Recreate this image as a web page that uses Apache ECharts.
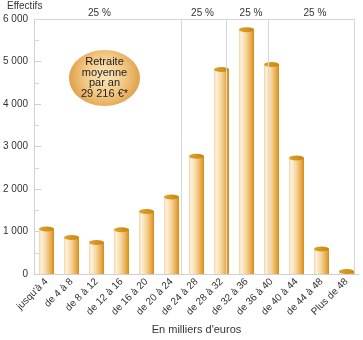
<!DOCTYPE html>
<html>
<head>
<meta charset="utf-8">
<script src="https://cdn.jsdelivr.net/npm/echarts@6/dist/echarts.min.js"></script>
<style>
  html, body { margin: 0; padding: 0; background: #fff; }
  #chart { width: 363px; height: 340px; }
</style>
</head>
<body>
<div id="chart"></div>
<script>
// Tranches de revenus (en milliers d'euros)
const categories = ["jusqu'à 4", 'de 4 à 8', 'de 8 à 12', 'de 12 à 16', 'de 16 à 20', 'de 20 à 24',
  'de 24 à 28', 'de 28 à 32', 'de 32 à 36', 'de 36 à 40', 'de 40 à 44', 'de 44 à 48', 'Plus de 48'];
// Effectifs par tranche
const effectifs = [1060, 860, 740, 1040, 1470, 1810, 2770, 4810, 5750, 4930, 2730, 590, 60];
// Graduations de l'axe des effectifs
const yTicks = [0, 1000, 2000, 3000, 4000, 5000, 6000];
// Quartiles, exprimés en rangs de tranche (0 = bord gauche)
const quartiles = [5.87, 7.69, 9.35];
const frameRight = 12.8;
const quartileLabel = '25 %';

const FONT = '"Liberation Sans", Arial, Helvetica, sans-serif';
const chart = echarts.init(document.getElementById('chart'), null, { renderer: 'canvas' });

const barFill = new echarts.graphic.LinearGradient(0, 0, 1, 0, [
  { offset: 0, color: '#f3d6a2' },
  { offset: 0.15, color: '#fdf1de' },
  { offset: 0.5, color: '#f5d398' },
  { offset: 0.85, color: '#e5a440' },
  { offset: 1, color: '#d48a14' }
]);
const capFill = new echarts.graphic.LinearGradient(0, 0, 1, 0, [
  { offset: 0, color: '#e0a22e' },
  { offset: 1, color: '#c9860e' }
]);

const bounds = [0].concat(quartiles, [frameRight]);
const labelShift = [-8, -1, 4, 4];
const areas = [];
for (let i = 0; i < bounds.length - 1; i++) {
  areas.push([
    { coord: [bounds[i], 0], label: { offset: [labelShift[i], 0] } },
    { coord: [bounds[i + 1], yTicks[yTicks.length - 1]] }
  ]);
}
const yMax = yTicks[yTicks.length - 1];
const frameLines = quartiles.map(q => [{ coord: [q, 0] }, { coord: [q, yMax] }]);
frameLines.push([{ coord: [frameRight, 0] }, { coord: [frameRight, yMax] }]);
frameLines.push([{ coord: [0, yMax] }, { coord: [frameRight, yMax] }]);

chart.setOption({
  animation: false,
  grid: { left: 34, right: 4, top: 19, bottom: 60, containLabel: false },
  xAxis: [
    {
      type: 'category',
      data: categories,
      boundaryGap: true,
      axisLine: { show: true, lineStyle: { color: '#d0d0d0', width: 1 } },
      axisTick: { show: false },
      axisLabel: { interval: 0, rotate: 45, fontSize: 10, color: '#333', fontFamily: FONT, margin: 6 },
      name: "En milliers d'euros",
      nameLocation: 'middle',
      nameGap: 46,
      nameTextStyle: { fontSize: 11, color: '#333', fontFamily: FONT },
      splitLine: { show: false }
    },
    { type: 'value', min: 0, max: 13, show: false, gridIndex: 0 }
  ],
  yAxis: {
    type: 'value',
    min: 0,
    max: yMax,
    interval: 1000,
    axisLine: { show: true, lineStyle: { color: '#d0d0d0' } },
    axisTick: { show: true, inside: true, length: 7, lineStyle: { color: '#d0d0d0' } },
    minorTick: { show: true, splitNumber: 2, length: 5, lineStyle: { color: '#d8d8d8' } },
    splitLine: { show: false },
    axisLabel: {
      fontSize: 10, color: '#333', fontFamily: FONT, margin: 6,
      formatter: v => String(v).replace(/\B(?=(\d{3})+(?!\d))/g, ' ')
    }
  },
  graphic: [
    { type: 'text', left: 7, top: 1, style: { text: 'Effectifs', fontSize: 10, fill: '#333', fontFamily: FONT } },
    {
      type: 'ellipse', shape: { cx: 104.5, cy: 78, rx: 35.5, ry: 28 }, z: 10,
      style: {
        fill: new echarts.graphic.RadialGradient(0.5, 0.45, 0.6, [
          { offset: 0, color: '#fbe5bd' },
          { offset: 0.6, color: '#f2c985' },
          { offset: 1, color: '#e2a650' }
        ])
      }
    },
    {
      type: 'text', x: 104.5, y: 78, z: 11,
      style: {
        text: 'Retraite\nmoyenne\npar an\n29 216 €*',
        fontSize: 11, lineHeight: 10.5, fill: '#222', fontFamily: FONT,
        align: 'center', verticalAlign: 'middle'
      }
    }
  ],
  series: [
    {
      type: 'line',
      xAxisIndex: 1,
      data: [],
      silent: true,
      z: 1,
      markLine: {
        silent: true,
        symbol: 'none',
        label: { show: false },
        lineStyle: { color: '#d8d8d8', width: 1, type: 'solid' },
        data: frameLines
      },
      markArea: {
        silent: true,
        itemStyle: { color: 'rgba(0,0,0,0)' },
        label: { show: true, position: 'top', distance: 1, formatter: quartileLabel, fontSize: 10, color: '#333', fontFamily: FONT },
        data: areas
      }
    },
    {
      type: 'bar',
      data: effectifs,
      barWidth: 15,
      z: 3,
      itemStyle: { color: barFill }
    },
    {
      type: 'pictorialBar',
      data: effectifs,
      symbol: 'circle',
      symbolSize: [15, 5],
      symbolPosition: 'end',
      symbolOffset: [0, '-50%'],
      barGap: '-100%',
      z: 4,
      itemStyle: { color: capFill }
    }
  ]
});
</script>
</body>
</html>
